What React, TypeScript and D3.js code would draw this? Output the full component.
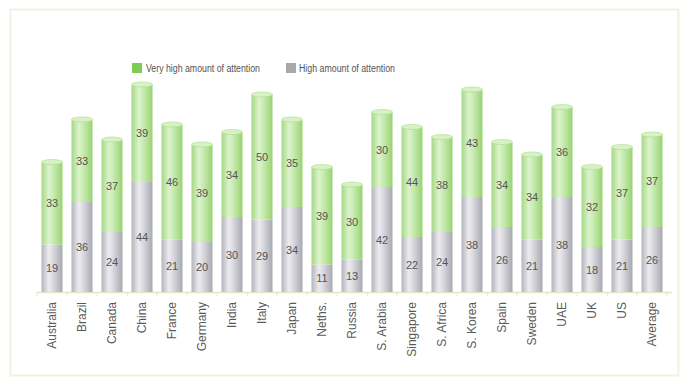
import React from "react";
import * as d3 from "d3";

const categories = ["Australia","Brazil","Canada","China","France","Germany","India","Italy","Japan","Neths.","Russia","S. Arabia","Singapore","S. Africa","S. Korea","Spain","Sweden","UAE","UK","US","Average"];
const highValues = [19,36,24,44,21,20,30,29,34,11,13,42,22,24,38,26,21,38,18,21,26];
const veryHighValues = [33,33,37,39,46,39,34,50,35,39,30,30,44,38,43,34,34,36,32,37,37];
const seriesNames = ["Very high amount of attention","High amount of attention"];

const W = 690, H = 381;

export default function App() {
  const x = d3.scaleBand<string>().domain(categories).range([37, 667]).paddingInner(0.3).paddingOuter(0.15);
  const y = d3.scaleLinear().domain([0, 100]).range([292, 42]);
  const bw = x.bandwidth();
  const font = "Arial, 'Liberation Sans', sans-serif";
  return (
    <div style={{ position: "absolute", left: 0, top: 0 }}>
      <svg width={W} height={H} style={{ display: "block" }}>
        <defs>
          <linearGradient id="gGreen" x1="0" x2="1" y1="0" y2="0">
            <stop offset="0" stopColor="#a4d984" />
            <stop offset="0.35" stopColor="#dcf3cd" />
            <stop offset="0.6" stopColor="#c4e9ab" />
            <stop offset="1" stopColor="#98d273" />
          </linearGradient>
          <linearGradient id="gGray" x1="0" x2="1" y1="0" y2="0">
            <stop offset="0" stopColor="#b4b4bc" />
            <stop offset="0.35" stopColor="#ececf0" />
            <stop offset="0.6" stopColor="#d4d4da" />
            <stop offset="1" stopColor="#a8a8b0" />
          </linearGradient>
        </defs>
        <rect x={0} y={0} width={W} height={H} fill="#ffffff" />
        <rect x={10.5} y={9.5} width={668} height={366} fill="none" stroke="#edf3e0" strokeWidth={2} />
        <rect x={132} y={63} width={10} height={10} fill="#7fcc55" />
        <text x={146} y={72} fontSize={10} fill="#555" fontFamily={font} textLength={114} lengthAdjust="spacingAndGlyphs">{seriesNames[0]}</text>
        <rect x={286} y={63} width={10} height={10} fill="#a8a8a8" />
        <text x={299} y={72} fontSize={10} fill="#555" fontFamily={font} textLength={96} lengthAdjust="spacingAndGlyphs">{seriesNames[1]}</text>
        <line x1={37} x2={672} y1={292.5} y2={292.5} stroke="#dfe9c8" strokeWidth={1.5} />
        {categories.map((c, i) => {
          const tx = (x(c) as number) - (x.step() - bw) / 2;
          return <line key={"t" + i} x1={tx} x2={tx} y1={292} y2={296} stroke="#dfe9c8" />;
        })}
        <line x1={(x(categories[categories.length - 1]) as number) + bw + (x.step() - bw) / 2} x2={(x(categories[categories.length - 1]) as number) + bw + (x.step() - bw) / 2} y1={292} y2={296} stroke="#dfe9c8" />
        {categories.map((c, i) => {
          const x0 = x(c) as number;
          const cx = x0 + bw / 2;
          const h = highValues[i];
          const v = veryHighValues[i];
          const yb = y(0), yh = y(h), yt = y(h + v);
          return (
            <g key={c}>
              <rect x={x0} y={yh} width={bw} height={yb - yh} fill="url(#gGray)" />
              <rect x={x0} y={yt} width={bw} height={yh - yt} fill="url(#gGreen)" />
              <ellipse cx={cx} cy={yt} rx={bw / 2} ry={2.5} fill="#d8f1c7" stroke="#aadd8a" strokeWidth={0.6} />
              <text x={cx} y={(yb + yh) / 2 + 4} textAnchor="middle" fontSize={11} fill="#555" fontFamily={font}>{h}</text>
              <text x={cx} y={(yh + yt) / 2 + 4} textAnchor="middle" fontSize={11} fill="#555" fontFamily={font}>{v}</text>
              <text transform={`translate(${cx + 4},302) rotate(-90)`} textAnchor="end" fontSize={12} fill="#5a5a5a" fontFamily={font}>{c}</text>
            </g>
          );
        })}
      </svg>
    </div>
  );
}
